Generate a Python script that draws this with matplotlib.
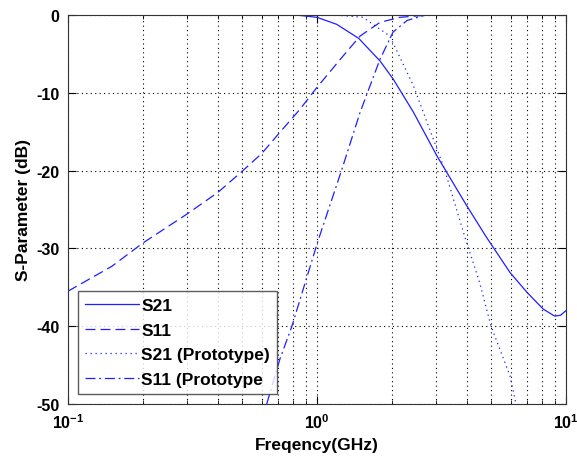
import matplotlib
matplotlib.use("Agg")
import matplotlib.pyplot as plt
from matplotlib.ticker import LogLocator, NullFormatter

# values
f_s21 = [0.755, 0.85, 1.0, 1.2, 1.47, 1.79, 2.02, 2.44, 3.03, 3.99, 4.8, 5.96, 6.95, 8.1, 9.0, 9.5, 10.0]
db_s21 = [0.0, -0.05, -0.3, -1.2, -3.0, -5.9, -8.2, -12.5, -18.1, -24.5, -28.6, -33.1, -35.6, -37.8, -38.7, -38.6, -38.0]

f_s11 = [0.1, 0.15, 0.2, 0.3, 0.4, 0.5, 0.6, 0.7, 0.85, 1.0, 1.24, 1.49, 1.79, 2.15, 2.68]
db_s11 = [-35.5, -32.3, -29.3, -25.6, -22.8, -20.1, -17.8, -15.3, -12.2, -9.3, -5.7, -2.7, -0.95, -0.3, -0.05]

f_s21p = [0.755, 1.2, 1.53, 1.96, 2.44, 3.25, 3.93, 4.5, 5.0, 5.96, 6.3]
db_s21p = [0.0, -0.02, -0.3, -2.7, -9.1, -19.8, -28.6, -34.4, -40.0, -46.4, -50.0]

f_s11p = [0.628, 0.71, 0.793, 0.881, 1.01, 1.26, 1.49, 1.79, 2.02, 2.3, 2.7]
db_s11p = [-50.0, -44.2, -40.0, -35.2, -29.0, -19.8, -12.5, -5.7, -2.2, -0.7, -0.05]

labels = ["S21", "S11", "S21 (Prototype)", "S11 (Prototype"]

plt.rcParams["font.family"] = ["Liberation Sans", "DejaVu Sans"]
plt.rcParams["font.weight"] = "bold"
plt.rcParams["axes.unicode_minus"] = False
plt.rcParams["mathtext.default"] = "regular"

fig = plt.figure(figsize=(5.77, 4.64), dpi=100)
ax = fig.add_axes([68 / 577, 1 - 405 / 464, 498 / 577, 389 / 464])

lc = "#1f1fff"
ax.plot(f_s21, db_s21, color=lc, lw=0.9, ls="-", label=labels[0])
ax.plot(f_s11, db_s11, color=lc, lw=0.9, ls=(0, (8, 4)), label=labels[1])
ax.plot(f_s21p, db_s21p, color=lc, lw=0.9, ls=(0, (1, 3)), label=labels[2])
ax.plot(f_s11p, db_s11p, color=lc, lw=0.9, ls=(0, (8, 3, 1.5, 3)), label=labels[3])

ax.set_xscale("log")
ax.set_xlim(0.1, 10)
ax.set_ylim(-50, 0)
ax.set_yticks([-50, -40, -30, -20, -10, 0])
ax.xaxis.set_minor_locator(LogLocator(base=10, subs=range(2, 10)))
ax.xaxis.set_minor_formatter(NullFormatter())

ax.grid(True, which="major", color="black", ls=(0, (1, 3)), lw=0.8)
ax.grid(True, which="minor", axis="x", color="black", ls=(0, (1, 3)), lw=0.8)
ax.tick_params(which="both", direction="in", top=True, right=True, labelsize=11.5)
ax.tick_params(which="major", length=6, pad=6)
ax.tick_params(which="minor", length=3)
for s in ax.spines.values():
    s.set_color("#333333")

ax.set_xlabel("Freqency(GHz)", fontsize=12.5, fontweight="bold", labelpad=4)
ax.set_ylabel("S-Parameter (dB)", fontsize=12.5, fontweight="bold")

leg = ax.legend(loc="lower left", bbox_to_anchor=(10 / 498, 10 / 389), fontsize=12.5,
                frameon=True, fancybox=False, edgecolor="#333333", borderpad=0.4,
                handlelength=3.1, handletextpad=0.15, labelspacing=0.55, borderaxespad=0)
leg.get_frame().set_linewidth(1.0)

fig.savefig("out.png", dpi=100)
